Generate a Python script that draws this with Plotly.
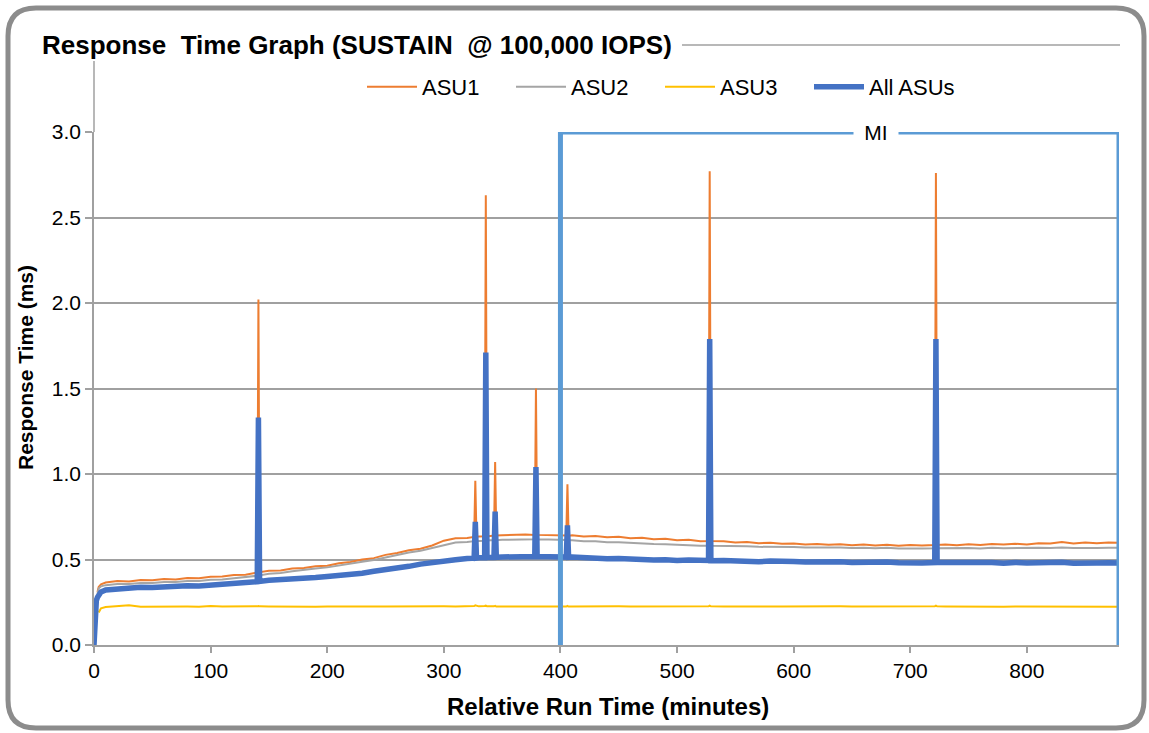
import plotly.graph_objects as go

# ---------------- data ----------------
times = [0, 1, 2, 3, 4, 6, 10,
         20, 30, 40, 50, 60, 70, 80, 90, 100, 110, 120, 130,
         140, 141, 142,
         150, 160, 170, 180, 190, 200, 210, 220, 230, 240, 250, 260, 270, 280, 290, 300, 310, 320,
         326, 327, 328, 330, 335, 336, 337, 340, 343, 344, 345,
         350, 360, 370, 378, 379, 380, 390, 400, 405, 406, 407,
         410, 420, 430, 440, 450, 460, 470, 480, 490, 500, 510, 520,
         527, 528, 529,
         540, 550, 560, 570, 580, 590, 600, 610, 620, 630, 640, 650, 660, 670, 680, 690, 700, 710,
         721, 722, 723,
         730, 740, 750, 760, 770, 780, 790, 800, 810, 820, 830, 840, 850, 860, 870,
         878]

asu1 = [None, None, None, 0.31, 0.34, 0.355, 0.365,
        0.374, 0.372, 0.380, 0.378, 0.386, 0.383, 0.392, 0.390, 0.399, 0.400, 0.410, 0.411,
        0.424, 2.02, 0.426,
        0.434, 0.436, 0.447, 0.450, 0.460, 0.464, 0.478, 0.486, 0.500, 0.508, 0.527, 0.538, 0.554, 0.563, 0.582, 0.610, 0.624, 0.626,
        0.632, 0.96, 0.632, 0.634, 0.636, 2.63, 0.636, 0.638, 0.640, 1.07, 0.640,
        0.642, 0.645, 0.646, 0.644, 1.50, 0.644, 0.642, 0.640, 0.640, 0.94, 0.638,
        0.642, 0.634, 0.637, 0.630, 0.633, 0.624, 0.627, 0.618, 0.621, 0.613, 0.615, 0.607,
        0.608, 2.77, 0.608,
        0.607, 0.600, 0.603, 0.595, 0.598, 0.592, 0.594, 0.588, 0.591, 0.586, 0.589, 0.584, 0.587, 0.582, 0.586, 0.581, 0.585, 0.582,
        0.585, 2.76, 0.585,
        0.588, 0.584, 0.589, 0.585, 0.591, 0.587, 0.592, 0.588, 0.595, 0.593, 0.602, 0.594, 0.599, 0.595, 0.600,
        0.598]

asu2 = [None, None, None, 0.30, 0.33, 0.343, 0.350,
        0.356, 0.357, 0.363, 0.362, 0.368, 0.368, 0.374, 0.375, 0.381, 0.383, 0.391, 0.397,
        0.405, 1.25, 0.407,
        0.416, 0.421, 0.431, 0.437, 0.447, 0.454, 0.466, 0.474, 0.487, 0.497, 0.513, 0.527, 0.541, 0.551, 0.567, 0.584, 0.599, 0.603,
        0.607, 0.68, 0.607, 0.608, 0.610, 1.62, 0.611, 0.612, 0.613, 0.74, 0.613,
        0.615, 0.617, 0.618, 0.618, 0.98, 0.617, 0.617, 0.615, 0.614, 0.67, 0.613,
        0.613, 0.607, 0.606, 0.601, 0.601, 0.596, 0.595, 0.590, 0.589, 0.585, 0.585, 0.581,
        0.581, 1.70, 0.580,
        0.580, 0.576, 0.577, 0.574, 0.575, 0.572, 0.573, 0.570, 0.571, 0.568, 0.570, 0.567, 0.569, 0.566, 0.568, 0.565, 0.567, 0.565,
        0.566, 1.70, 0.566,
        0.567, 0.565, 0.567, 0.565, 0.568, 0.566, 0.568, 0.566, 0.569, 0.567, 0.570, 0.567, 0.569, 0.567, 0.568,
        0.568]

asu3 = [None, None, None, None, 0.19, 0.215, 0.222,
        0.225, 0.232, 0.224, 0.225, 0.224, 0.226, 0.225, 0.224, 0.228, 0.225, 0.224, 0.225,
        0.226, 0.228, 0.226,
        0.225, 0.224, 0.226, 0.225, 0.224, 0.225, 0.226, 0.225, 0.224, 0.225, 0.225, 0.226, 0.225, 0.224, 0.225, 0.226, 0.225, 0.226,
        0.228, 0.232, 0.230, 0.226, 0.228, 0.230, 0.226, 0.225, 0.226, 0.229, 0.225,
        0.225, 0.226, 0.225, 0.226, 0.229, 0.225, 0.225, 0.224, 0.225, 0.229, 0.225,
        0.225, 0.226, 0.225, 0.224, 0.226, 0.225, 0.225, 0.226, 0.224, 0.225, 0.226, 0.225,
        0.226, 0.230, 0.226,
        0.225, 0.226, 0.225, 0.224, 0.225, 0.225, 0.226, 0.225, 0.224, 0.225, 0.226, 0.225, 0.225, 0.224, 0.225, 0.226, 0.225, 0.225,
        0.226, 0.230, 0.226,
        0.225, 0.224, 0.225, 0.226, 0.225, 0.224, 0.225, 0.225, 0.226, 0.225, 0.224, 0.225, 0.225, 0.224, 0.225,
        0.224]

all_asus = [0.0, 0.20, 0.26, 0.28, 0.295, 0.31, 0.322,
            0.330, 0.333, 0.338, 0.336, 0.342, 0.341, 0.346, 0.345, 0.350, 0.352, 0.358, 0.361,
            0.370, 1.33, 0.372,
            0.378, 0.381, 0.384, 0.393, 0.395, 0.401, 0.406, 0.416, 0.420, 0.431, 0.438, 0.453, 0.460, 0.473, 0.479, 0.493, 0.498, 0.506,
            0.508, 0.72, 0.508, 0.510, 0.510, 1.71, 0.512, 0.512, 0.512, 0.78, 0.513,
            0.515, 0.516, 0.518, 0.517, 1.04, 0.516, 0.516, 0.514, 0.514, 0.70, 0.513,
            0.514, 0.508, 0.510, 0.504, 0.506, 0.501, 0.502, 0.497, 0.499, 0.494, 0.497, 0.492,
            0.494, 1.79, 0.493,
            0.494, 0.489, 0.492, 0.487, 0.491, 0.486, 0.489, 0.485, 0.488, 0.484, 0.487, 0.483, 0.486, 0.482, 0.485, 0.481, 0.484, 0.480,
            0.482, 1.79, 0.482,
            0.483, 0.479, 0.484, 0.480, 0.482, 0.478, 0.483, 0.479, 0.482, 0.480, 0.484, 0.478, 0.482, 0.479, 0.481,
            0.480]

series_names = ["ASU1", "ASU2", "ASU3", "All ASUs"]
x_ticks = [0, 100, 200, 300, 400, 500, 600, 700, 800]
y_ticks = [0.0, 0.5, 1.0, 1.5, 2.0, 2.5, 3.0]
mi_start = 400
mi_end = 879
x_max = 879
y_max = 3.0

# ---------------- layout geometry ----------------
W, H = 1149, 733
L, R, T, B = 94, 30, 132, 88
PW, PH = W - L - R, H - T - B


def px(xpix):
    return (xpix - L) / PW


def py(ypix):
    return (H - B - ypix) / PH


FONT = "Liberation Sans, Arial, sans-serif"
GRID = "#a0a0a0"

fig = go.Figure()
colors = ["#ED7D31", "#A5A5A5", "#FFC000", "#4472C4"]
widths = [2, 2, 2, 5.5]
for name, vals, c, w in zip(series_names, [asu1, asu2, asu3, all_asus], colors, widths):
    fig.add_trace(go.Scatter(x=times, y=vals, mode="lines", name=name,
                             line=dict(color=c, width=w), connectgaps=False))

# rounded outer frame
x0, y0, x1, y1, r = 8, 8, 1144, 728, 28
frame = (f"M {px(x0 + r)},{py(y0)} L {px(x1 - r)},{py(y0)} "
         f"Q {px(x1)},{py(y0)} {px(x1)},{py(y0 + r)} "
         f"L {px(x1)},{py(y1 - r)} Q {px(x1)},{py(y1)} {px(x1 - r)},{py(y1)} "
         f"L {px(x0 + r)},{py(y1)} Q {px(x0)},{py(y1)} {px(x0)},{py(y1 - r)} "
         f"L {px(x0)},{py(y0 + r)} Q {px(x0)},{py(y0)} {px(x0 + r)},{py(y0)} Z")
shapes = [
    dict(type="path", xref="paper", yref="paper", path=frame,
         line=dict(color="#8c8c8c", width=5), layer="above"),
    # title rule and vertical rule
    dict(type="line", xref="paper", yref="paper", x0=px(682), x1=px(1120), y0=py(45), y1=py(45),
         line=dict(color=GRID, width=1.5)),
    dict(type="line", xref="paper", yref="paper", x0=0, x1=0, y0=1, y1=py(61),
         line=dict(color=GRID, width=1.5)),
    # MI window
    dict(type="path", xref="x", yref="y",
         path=f"M {mi_start},0 L {mi_start},{y_max} L {mi_end},{y_max} L {mi_end},0",
         line=dict(color="#5B9BD5", width=5), layer="above"),
]

annotations = [
    dict(text="<b>Response  Time Graph (SUSTAIN  @ 100,000 IOPS)</b>", xref="paper", yref="paper",
         x=px(40), y=py(45), xanchor="left", yanchor="middle", showarrow=False,
         font=dict(family=FONT, size=26, color="#000")),
    dict(text="MI", xref="x", yref="y", x=671, y=y_max, showarrow=False,
         xanchor="center", yanchor="middle", bgcolor="white", borderpad=0,
         font=dict(family=FONT, size=21, color="#000"), width=44),
    dict(text="<b>Response Time (ms)</b>", xref="paper", yref="paper",
         x=px(25), y=py(368), xanchor="center", yanchor="middle", textangle=-90,
         showarrow=False, font=dict(family=FONT, size=21, color="#000")),
    dict(text="<b>Relative Run Time (minutes)</b>", xref="paper", yref="paper",
         x=px(608), y=py(706), xanchor="center", yanchor="middle",
         showarrow=False, font=dict(family=FONT, size=24, color="#000")),
]

fig.update_layout(
    width=W, height=H, autosize=False,
    margin=dict(l=L, r=R, t=T, b=B),
    paper_bgcolor="white", plot_bgcolor="white",
    font=dict(family=FONT, size=20, color="#000"),
    shapes=shapes, annotations=annotations,
    showlegend=True,
    legend=dict(orientation="h", x=px(362), y=py(87), xanchor="left", yanchor="middle",
                font=dict(family=FONT, size=22, color="#000"), bgcolor="rgba(0,0,0,0)",
                itemwidth=50, entrywidth=84, entrywidthmode="pixels", traceorder="normal"),
    xaxis=dict(range=[0, x_max], tickvals=x_ticks, showgrid=False, zeroline=False,
               showline=True, linecolor=GRID, linewidth=1.5,
               ticks="outside", ticklen=6, tickcolor=GRID, tickwidth=1.5,
               tickfont=dict(family=FONT, size=21, color="#000")),
    yaxis=dict(range=[0, y_max], tickvals=y_ticks, tickformat=".1f", showgrid=True,
               gridcolor=GRID, gridwidth=1.5, zeroline=False,
               showline=True, linecolor=GRID, linewidth=1.5,
               ticks="outside", ticklen=7, tickcolor=GRID, tickwidth=1.5,
               tickfont=dict(family=FONT, size=21, color="#000")),
)

fig.write_html("out.html")
